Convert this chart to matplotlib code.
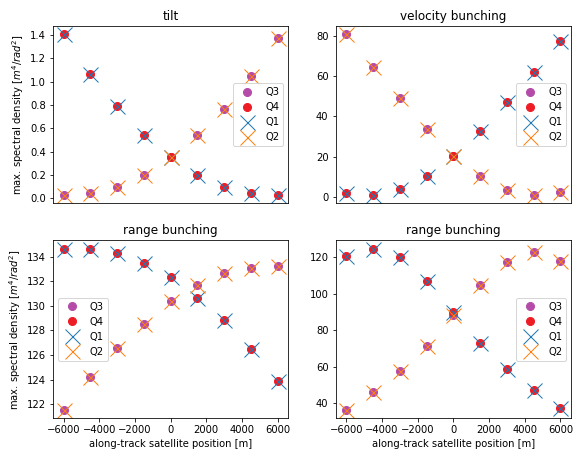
import matplotlib
matplotlib.use('Agg')
import matplotlib.pyplot as plt

# along-track satellite positions [m]
positions = [-6000, -4500, -3000, -1500, 0, 1500, 3000, 4500, 6000]

# Q1 / Q4 share one curve, Q2 / Q3 the mirrored one
tilt_q14 = [1.41, 1.067, 0.789, 0.542, 0.352, 0.199, 0.097, 0.045, 0.026]
tilt_q23 = [0.026, 0.045, 0.097, 0.200, 0.352, 0.540, 0.770, 1.050, 1.377]

vel_q14 = [2.1, 1.0, 4.1, 10.6, 20.3, 32.9, 47.0, 62.0, 77.4]
vel_q23 = [80.8, 64.6, 48.9, 33.9, 20.3, 10.6, 3.9, 1.1, 2.5]

rng1_q14 = [134.65, 134.65, 134.3, 133.5, 132.3, 130.65, 128.84, 126.49, 123.92]
rng1_q23 = [121.54, 124.24, 126.6, 128.54, 130.38, 131.68, 132.65, 133.08, 133.27]

rng2_q14 = [120.9, 124.9, 120.0, 106.9, 90.1, 73.2, 58.6, 47.3, 37.6]
rng2_q23 = [36.3, 46.2, 57.5, 71.3, 88.7, 105.1, 117.3, 122.9, 118.2]

titles = ['tilt', 'velocity bunching', 'range bunching', 'range bunching']
legend_locs = ['center right', 'center right', 'center left', 'center right']
ylabel = r'max. spectral density [$m^4/rad^2$]'

panels = [(tilt_q14, tilt_q23), (vel_q14, vel_q23),
          (rng1_q14, rng1_q23), (rng2_q14, rng2_q23)]

fig, axes = plt.subplots(2, 2, figsize=(574 / 72, 453 / 72), dpi=72)
fig.subplots_adjust(left=0.092, right=0.995, top=0.943, bottom=0.077,
                    wspace=0.2, hspace=0.208)

for i, ax in enumerate(axes.flat):
    q14, q23 = panels[i]
    ax.plot(positions, q23, 'o', color='#b54ba8', markersize=8, label='Q3')
    ax.plot(positions, q14, 'o', color='#ee1c25', markersize=8, label='Q4')
    ax.plot(positions, q14, 'x', color='C0', markersize=15, label='Q1')
    ax.plot(positions, q23, 'x', color='C1', markersize=15, label='Q2')
    ax.set_title(titles[i])
    ax.legend(loc=legend_locs[i], numpoints=1)
    if i < 2:
        ax.tick_params(bottom=False, labelbottom=False)
    else:
        ax.set_xlabel('along-track satellite position [m]')
    if i % 2 == 0:
        ax.set_ylabel(ylabel)

axes[0, 0].set_yticks([0.0, 0.2, 0.4, 0.6, 0.8, 1.0, 1.2, 1.4])

fig.savefig('out.png', dpi=72)
